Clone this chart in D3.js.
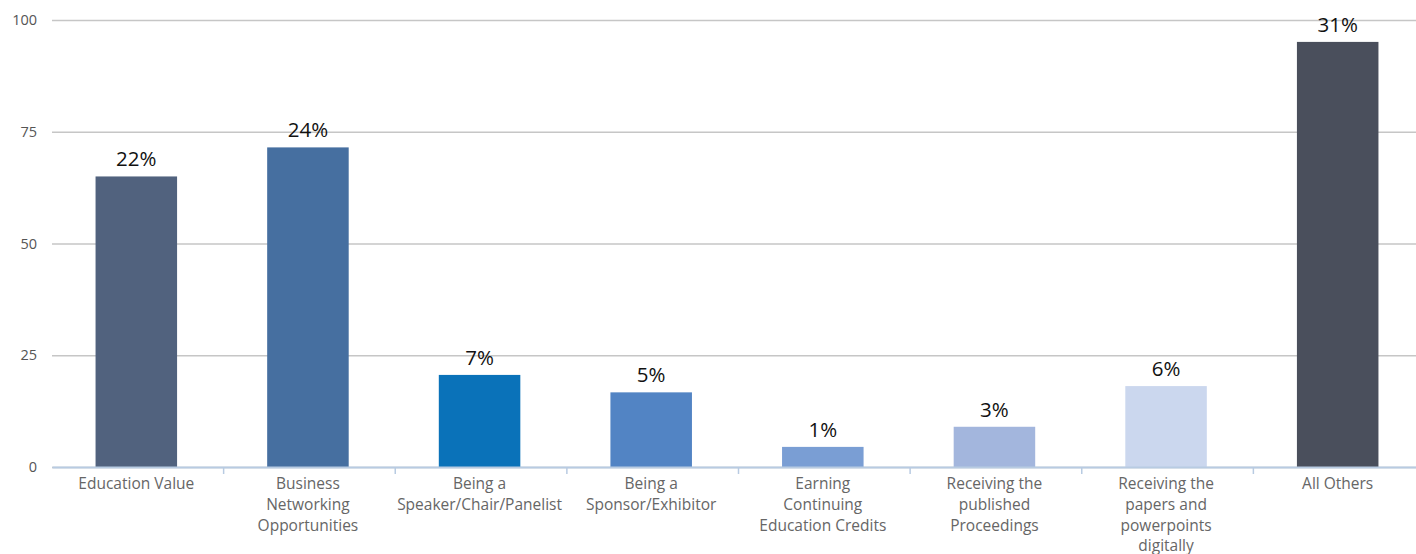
<!DOCTYPE html>
<html>
<head>
<meta charset="utf-8">
<script src="https://cdn.jsdelivr.net/npm/d3@7"></script>
<style>
  body { margin: 0; background: #fff; }
  svg { display: block; font-family: "Open Sans", sans-serif; }
</style>
</head>
<body>
<div id="chart"></div>
<script>
// DATA
const categories = [
  "Education Value",
  "Business Networking Opportunities",
  "Being a Speaker/Chair/Panelist",
  "Being a Sponsor/Exhibitor",
  "Earning Continuing Education Credits",
  "Receiving the published Proceedings",
  "Receiving the papers and powerpoints digitally",
  "All Others"
]
const labelLines = [
  ["Education Value"],
  ["Business", "Networking", "Opportunities"],
  ["Being a", "Speaker/Chair/Panelist"],
  ["Being a", "Sponsor/Exhibitor"],
  ["Earning", "Continuing", "Education Credits"],
  ["Receiving the", "published", "Proceedings"],
  ["Receiving the", "papers and", "powerpoints", "digitally"],
  ["All Others"]
]
const values = [65, 71.5, 20.6, 16.7, 4.5, 9, 18.1, 95.1]
const pctLabels = ["22%", "24%", "7%", "5%", "1%", "3%", "6%", "31%"]
const colors = ["#51627e", "#466fa0", "#0a72b9", "#5284c4", "#7a9ed4", "#a3b6dd", "#cbd7ee", "#4a4f5c"]
const yTicks = [0, 25, 50, 75, 100]

// CONSTANTES
const width = 1416
const height = 554
const plotLeft = 52
const plotRight = 1425
const yTop = 20
const yBottom = 467

const svg = d3.select("#chart").append("svg").attr("width", width).attr("height", height)

// ESCALAS
const x = d3.scaleBand().domain(categories).range([plotLeft, plotRight]).padding(0)
const y = d3.scaleLinear().domain([0, 100]).range([yBottom, yTop])
const barW = x.bandwidth() * 0.475
const barShift = -1.5

// GRID + EJE Y
const yAxis = d3.axisLeft(y).tickValues(yTicks).tickSize(-(plotRight - plotLeft)).tickPadding(15)
const yAxisGroup = svg.append("g").attr("transform", `translate(${plotLeft},0)`).call(yAxis)
yAxisGroup.select(".domain").remove()
yAxisGroup.selectAll(".tick line").attr("stroke", "#c6c6c6").attr("stroke-width", 1.3)
yAxisGroup.selectAll(".tick text")
  .attr("fill", "#555").style("font-size", "14.5px").style("font-family", "Open Sans, sans-serif")

// BARRAS
svg.append("g").selectAll("rect").data(categories).enter().append("rect")
  .attr("x", (d, i) => x(d) + (x.bandwidth() - barW) / 2 + barShift)
  .attr("y", (d, i) => y(values[i]))
  .attr("width", barW)
  .attr("height", (d, i) => y(0) - y(values[i]))
  .attr("fill", (d, i) => colors[i])

// ETIQUETAS VALOR
svg.append("g").selectAll("text").data(categories).enter().append("text")
  .attr("x", d => x(d) + x.bandwidth() / 2 + barShift)
  .attr("y", (d, i) => y(values[i]) - 10)
  .attr("text-anchor", "middle")
  .attr("fill", "#111")
  .style("font-size", "20.5px")
  .text((d, i) => pctLabels[i])

// EJE X
const xAxis = d3.axisBottom(x).tickSize(0).tickFormat("")
const xAxisGroup = svg.append("g").attr("transform", `translate(0,${yBottom})`).call(xAxis)
xAxisGroup.select(".domain").attr("stroke", "#b8cbe2").attr("stroke-width", 2)
xAxisGroup.selectAll(".tick").remove()

// separadores
svg.append("g").selectAll("line").data(categories.slice(1)).enter().append("line")
  .attr("x1", d => x(d)).attr("x2", d => x(d))
  .attr("y1", yBottom).attr("y2", yBottom + 7)
  .attr("stroke", "#b8cbe2").attr("stroke-width", 1.5)

// etiquetas categoria
const catText = svg.append("g").selectAll("text").data(categories).enter().append("text")
  .attr("x", d => x(d) + x.bandwidth() / 2 + barShift)
  .attr("y", yBottom + 22)
  .attr("text-anchor", "middle")
  .attr("fill", "#666")
  .style("font-size", "15.5px")
catText.each(function (d, i) {
  d3.select(this).selectAll("tspan").data(labelLines[i]).enter().append("tspan")
    .attr("x", x(d) + x.bandwidth() / 2 + barShift)
    .attr("dy", (t, j) => j === 0 ? 0 : 20.8)
    .text(t => t)
})
</script>
</body>
</html>
